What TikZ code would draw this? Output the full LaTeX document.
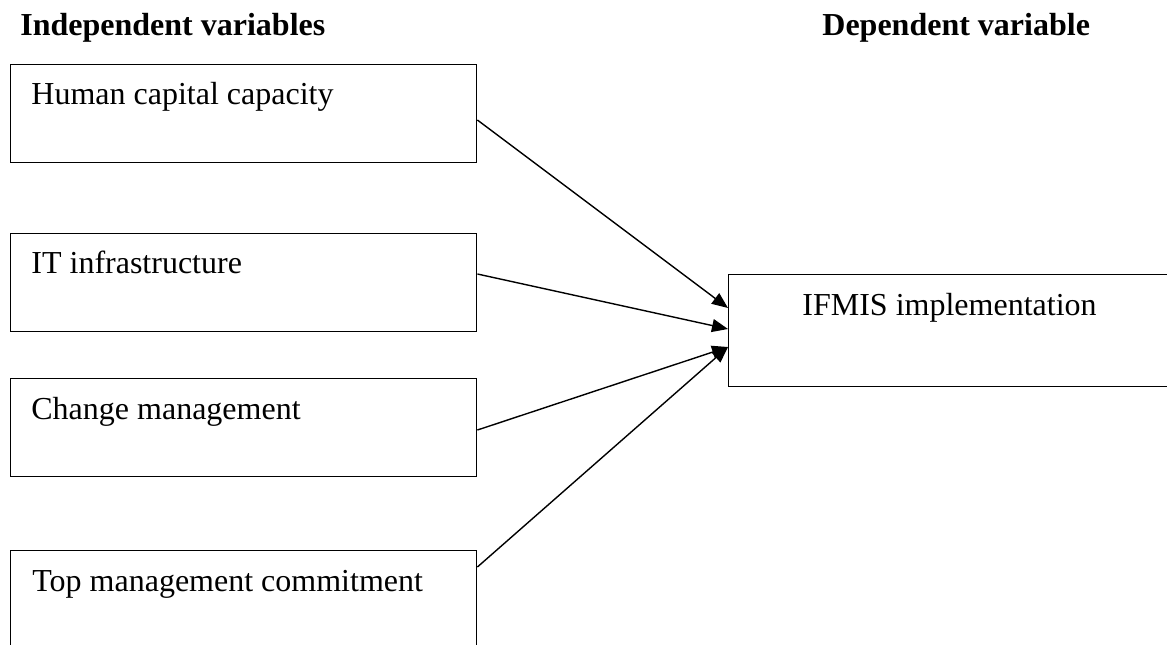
\documentclass[tikz,border=0pt]{standalone}
\usepackage{fontspec}
\setmainfont{Liberation Serif}
\usetikzlibrary{calc, arrows.meta, positioning}

\begin{document}
\begin{tikzpicture}[x=0.5pt, y=-0.5pt, >=latex, font=\fontsize{16}{19}\selectfont]
		\tikzstyle{box} = [draw=black, rectangle, line width=0.7pt, anchor=north west, inner sep=0pt, minimum width=233pt, minimum height=49pt]
		\tikzstyle{bigbox} = [box, minimum width=260pt, minimum height=56pt]
		\tikzstyle{txt} = [anchor=base west, inner sep=0pt]
		\tikzstyle{head} = [txt, font=\fontsize{16}{19}\selectfont\bfseries]
		\tikzstyle{arrow} = [line width=0.7pt, -{Triangle[length=8pt, width=6.5pt]}]

		\useasboundingbox (0, 0) rectangle (1167, 644);

		\node[head]	at (20, 35)	(indep)	{Independent variables};
		\node[head]	at (822, 35)	(dep)	{Dependent variable};

		\node[box]	at (10, 64)	(hc)	{};
		\node[box]	at (10, 233)	(it)	{};
		\node[box]	at (10, 378)	(cm)	{};
		\node[box]	at (10, 550)	(tm)	{};
		\node[bigbox]	at (728, 274)	(ifmis)	{};

		\node[txt]	at ($(hc.north west)+(21, 40)$)	(hctext)	{Human capital capacity};
		\node[txt]	at ($(it.north west)+(21, 40)$)	(ittext)	{IT infrastructure};
		\node[txt]	at ($(cm.north west)+(21, 41)$)	(cmtext)	{Change management};
		\node[txt]	at ($(tm.north west)+(22, 41)$)	(tmtext)	{Top management commitment};
		\node[txt]	at ($(ifmis.north west)+(74, 41)$)	(ifmistext)	{IFMIS implementation};

		\draw [arrow] ($(hc.north east)+(0, 56)$) -- ($(ifmis.north west)+(0, 34)$);
		\draw [arrow] ($(it.north east)+(0, 41)$) -- ($(ifmis.north west)+(0, 55)$);
		\draw [arrow] ($(cm.north east)+(0, 52)$) -- ($(ifmis.north west)+(0, 73)$);
		\draw [arrow] ($(tm.north east)+(0, 17)$) -- ($(ifmis.north west)+(0, 73)$);
	\end{tikzpicture}
\end{document}
